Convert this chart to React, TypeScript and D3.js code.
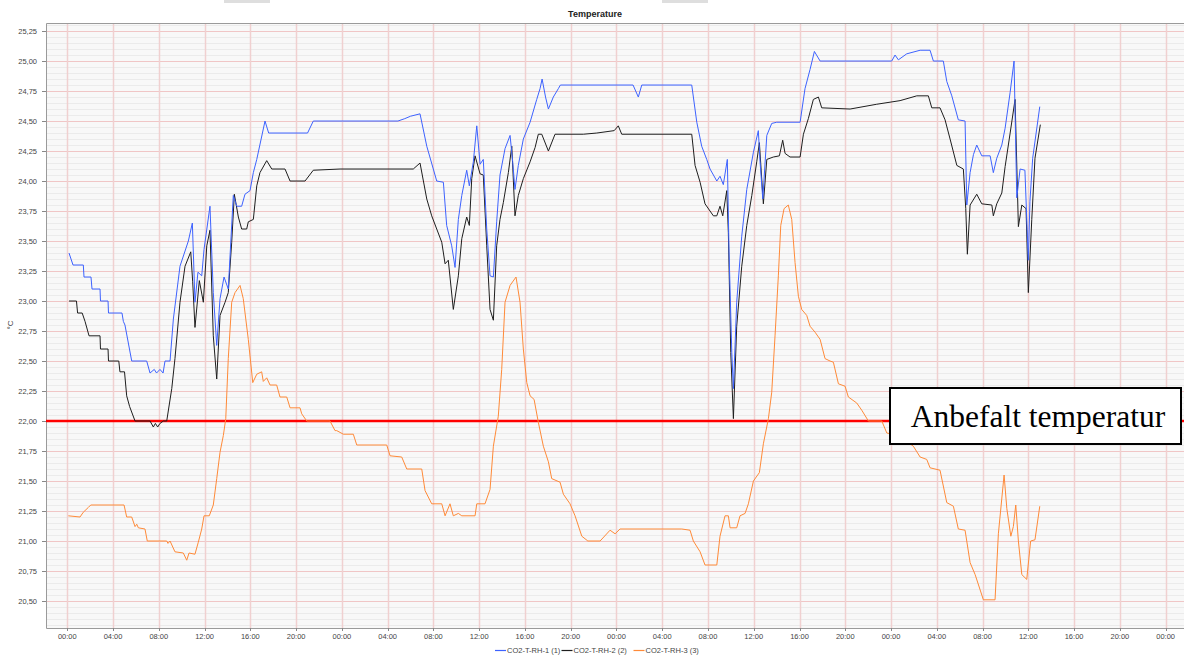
import React, { useEffect, useRef } from "react";
import * as d3 from "d3";

const W = 1184;
const H = 655;

const seriesNames = ["CO2-T-RH-1 (1)", "CO2-T-RH-2 (2)", "CO2-T-RH-3 (3)"];
const seriesColors = ["#3d62ff", "#1e1e1e", "#ff8a38"];
const hourLabels = ["00:00", "04:00", "08:00", "12:00", "16:00", "20:00"];
const refTemp = 22.0;
const refLabel = "Anbefalt temperatur";

// [hours since first 00:00, °C]
const rh1: [number, number][] = [
  [0.15, 23.4], [0.5, 23.3], [1.4, 23.3], [1.46, 23.2], [2.07, 23.2], [2.16, 23.1], [2.86, 23.1], [2.9, 23.0],
  [3.56, 23.0], [3.6, 22.9], [4.78, 22.9], [4.9, 22.83], [5.04, 22.8], [5.63, 22.5], [6.94, 22.5], [7.23, 22.4],
  [7.6, 22.43], [7.8, 22.4], [8.1, 22.43], [8.37, 22.4], [8.54, 22.5], [8.98, 22.5], [9.27, 22.85], [9.85, 23.29],
  [10.58, 23.5], [10.93, 23.65], [11.16, 22.99], [11.42, 23.24], [11.75, 23.21], [11.95, 23.43], [12.47, 23.79],
  [12.76, 23.07], [13.06, 22.63], [13.35, 23.02], [13.7, 23.2], [14.07, 23.1], [14.51, 23.88], [14.81, 23.79],
  [15.24, 23.79], [15.53, 23.89], [15.97, 23.92], [16.26, 24.07], [16.56, 24.18], [17.28, 24.5], [17.6, 24.4],
  [21.0, 24.4], [21.5, 24.5], [28.9, 24.5], [29.5, 24.52], [30.0, 24.54], [30.83, 24.56], [31.42, 24.29],
  [31.99, 24.1], [32.29, 24.0], [32.87, 23.99], [33.16, 23.63], [33.6, 23.46], [33.89, 23.28], [34.18, 23.68],
  [34.48, 23.88], [34.91, 24.09], [35.14, 23.96], [35.49, 24.16], [35.79, 24.46], [36.08, 24.14], [36.36, 24.18],
  [36.66, 23.6], [36.95, 23.21], [37.24, 23.2], [37.53, 23.66], [37.82, 24.05], [38.26, 24.27], [38.7, 24.38],
  [38.93, 24.16], [39.13, 23.93], [39.42, 24.13], [39.86, 24.35], [40.45, 24.49], [41.03, 24.68], [41.32, 24.77],
  [41.5, 24.85], [41.8, 24.7], [42.05, 24.6], [42.48, 24.7], [42.92, 24.77], [43.1, 24.8], [49.45, 24.8],
  [49.91, 24.7], [50.21, 24.8], [54.58, 24.8], [55.02, 24.49], [55.45, 24.29], [55.89, 24.18], [56.18, 24.1],
  [56.77, 24.0], [57.05, 24.04], [57.34, 23.97], [57.69, 24.18], [57.84, 23.41], [58.08, 22.57], [58.22, 22.27],
  [58.51, 22.99], [58.95, 23.54], [59.39, 23.93], [59.97, 24.24], [60.4, 24.42], [60.55, 24.16], [60.79, 23.85],
  [61.14, 24.38], [61.57, 24.48], [62.01, 24.49], [64.05, 24.49], [64.48, 24.77], [64.92, 24.93], [65.3, 25.08],
  [65.8, 25.0], [72.06, 25.0], [72.35, 25.05], [72.64, 25.01], [73.37, 25.06], [74.54, 25.09], [75.41, 25.09],
  [75.7, 25.0], [76.57, 25.0], [76.87, 24.83], [77.31, 24.71], [77.88, 24.51], [78.47, 24.5], [78.62, 23.8],
  [78.91, 24.07], [79.2, 24.22], [79.49, 24.3], [79.93, 24.21], [80.66, 24.21], [80.94, 24.07], [81.24, 24.19],
  [81.68, 24.3], [81.97, 24.44], [82.41, 24.74], [82.75, 25.0], [82.99, 23.86], [83.28, 24.1], [83.7, 24.09],
  [84.0, 23.34], [84.14, 23.83], [84.38, 24.19], [85.0, 24.62],
];

const rh2: [number, number][] = [
  [0.15, 23.0], [0.8, 23.0], [0.9, 22.9], [1.3, 22.9], [1.55, 22.83], [1.9, 22.71], [2.86, 22.71], [2.9, 22.6],
  [3.56, 22.6], [3.6, 22.5], [4.5, 22.5], [4.6, 22.41], [5.0, 22.41], [5.19, 22.21], [5.45, 22.12], [5.92, 22.0],
  [7.23, 22.0], [7.52, 21.95], [7.7, 21.98], [7.9, 21.95], [8.1, 21.98], [8.4, 22.0], [8.69, 22.0], [9.13, 22.27],
  [9.41, 22.52], [9.85, 22.99], [10.29, 23.29], [10.79, 23.41], [10.96, 23.16], [11.16, 22.78], [11.54, 23.17],
  [11.89, 22.99], [12.19, 23.46], [12.47, 23.59], [12.76, 22.71], [13.06, 22.35], [13.35, 22.88], [13.79, 22.99],
  [14.07, 23.07], [14.37, 23.49], [14.6, 23.89], [14.95, 23.7], [15.24, 23.6], [15.68, 23.6], [15.82, 23.66],
  [16.26, 23.68], [16.56, 23.96], [16.84, 24.07], [17.43, 24.17], [17.87, 24.1], [19.03, 24.1], [19.47, 24.0],
  [20.78, 24.0], [21.5, 24.09], [23.84, 24.1], [30.24, 24.1], [30.83, 24.15], [31.42, 23.85], [31.85, 23.71],
  [32.29, 23.6], [32.73, 23.49], [33.02, 23.31], [33.3, 23.34], [33.74, 22.93], [34.18, 23.21], [34.48, 23.52],
  [34.91, 23.7], [35.14, 23.63], [35.35, 24.02], [35.64, 24.21], [36.08, 24.06], [36.36, 24.05], [36.66, 23.46],
  [36.95, 22.93], [37.24, 22.84], [37.53, 23.46], [37.82, 23.68], [38.11, 23.82], [38.55, 24.07], [38.85, 24.29],
  [39.13, 23.71], [39.42, 23.88], [39.86, 24.02], [40.45, 24.16], [40.89, 24.28], [41.17, 24.39], [41.47, 24.39],
  [42.05, 24.25], [42.63, 24.39], [45.1, 24.39], [46.28, 24.4], [47.8, 24.42], [48.16, 24.46], [48.46, 24.39],
  [54.58, 24.39], [54.87, 24.13], [55.31, 23.99], [55.74, 23.81], [56.47, 23.71], [56.77, 23.71], [57.05, 23.79],
  [57.29, 23.71], [57.64, 23.92], [57.78, 23.57], [57.99, 22.57], [58.22, 22.02], [58.51, 22.79], [58.95, 23.29],
  [59.39, 23.63], [59.83, 23.88], [60.26, 24.16], [60.49, 24.32], [60.64, 24.1], [60.84, 23.81], [61.14, 24.18],
  [61.71, 24.2], [62.24, 24.21], [62.53, 24.34], [62.74, 24.23], [63.17, 24.2], [64.05, 24.2], [64.34, 24.39],
  [64.77, 24.52], [65.21, 24.68], [65.65, 24.7], [65.94, 24.61], [68.42, 24.6], [70.75, 24.64], [72.79, 24.67],
  [74.25, 24.71], [75.26, 24.71], [75.56, 24.61], [76.28, 24.61], [76.72, 24.51], [77.16, 24.35], [77.75, 24.13],
  [78.32, 24.1], [78.53, 23.77], [78.67, 23.39], [78.91, 23.8], [79.49, 23.89], [79.93, 23.81], [80.81, 23.8],
  [80.94, 23.71], [81.24, 23.81], [81.68, 23.9], [81.97, 24.12], [82.41, 24.4], [82.84, 24.68], [83.13, 23.62],
  [83.43, 23.8], [83.8, 23.77], [84.0, 23.07], [84.3, 23.68], [84.58, 24.19], [85.05, 24.47],
];

const rh3: [number, number][] = [
  [0.09, 21.21], [1.11, 21.2], [1.4, 21.24], [1.84, 21.28], [2.05, 21.3], [4.96, 21.3], [5.19, 21.2], [5.63, 21.2],
  [5.92, 21.12], [6.07, 21.14], [6.21, 21.11], [6.79, 21.1], [6.99, 21.0], [8.69, 21.0], [8.8, 20.98], [8.98, 21.0],
  [9.41, 20.91], [10.14, 20.9], [10.44, 20.84], [10.64, 20.9], [11.16, 20.89], [11.45, 20.99], [11.75, 21.1],
  [11.95, 21.21], [12.41, 21.21], [12.76, 21.3], [13.06, 21.52], [13.35, 21.74], [13.64, 21.88], [13.85, 22.02],
  [14.07, 22.52], [14.37, 22.99], [14.66, 23.07], [15.1, 23.13], [15.38, 23.02], [15.82, 22.68], [16.21, 22.32],
  [16.56, 22.39], [16.99, 22.41], [17.13, 22.33], [17.43, 22.36], [17.72, 22.3], [18.3, 22.3], [18.59, 22.2],
  [19.18, 22.2], [19.47, 22.11], [20.34, 22.11], [20.49, 22.06], [20.93, 22.0], [22.96, 22.0], [23.4, 21.92],
  [23.55, 21.92], [24.13, 21.89], [25.0, 21.89], [25.3, 21.8], [27.92, 21.8], [28.21, 21.71], [29.23, 21.7],
  [29.67, 21.6], [30.98, 21.6], [31.27, 21.42], [31.85, 21.31], [32.73, 21.31], [33.02, 21.21], [33.45, 21.31],
  [33.74, 21.21], [34.18, 21.23], [34.48, 21.21], [35.64, 21.21], [35.79, 21.31], [36.51, 21.31], [36.95, 21.43],
  [37.24, 21.79], [37.67, 22.04], [37.97, 22.43], [38.26, 22.99], [38.7, 23.13], [39.22, 23.2], [39.57, 22.99],
  [39.86, 22.6], [40.16, 22.32], [40.45, 22.21], [40.8, 22.18], [41.17, 21.99], [41.61, 21.79], [42.05, 21.66],
  [42.34, 21.52], [43.07, 21.49], [43.36, 21.39], [43.94, 21.31], [44.38, 21.21], [44.97, 21.04], [45.5, 21.0],
  [46.57, 21.0], [47.44, 21.09], [47.88, 21.06], [48.31, 21.1], [53.71, 21.1], [54.43, 21.09], [54.72, 21.0],
  [55.31, 20.91], [55.74, 20.8], [56.77, 20.8], [57.05, 21.04], [57.49, 21.21], [57.78, 21.21], [57.93, 21.11],
  [58.51, 21.11], [58.8, 21.21], [59.24, 21.23], [59.53, 21.31], [59.97, 21.5], [60.49, 21.57], [60.84, 21.81],
  [61.28, 22.02], [61.57, 22.24], [61.86, 22.71], [62.15, 23.21], [62.36, 23.63], [62.65, 23.77], [63.02, 23.8],
  [63.32, 23.68], [63.61, 23.32], [63.9, 23.04], [64.19, 22.93], [64.63, 22.88], [64.92, 22.79], [65.36, 22.74],
  [65.8, 22.68], [66.23, 22.52], [66.67, 22.5], [66.96, 22.49], [67.4, 22.31], [67.98, 22.29], [68.27, 22.2],
  [69.0, 22.15], [69.44, 22.09], [70.02, 22.0], [71.19, 22.0], [71.63, 21.9], [72.64, 21.88], [73.95, 21.79],
  [74.54, 21.7], [75.12, 21.68], [75.41, 21.61], [76.28, 21.59], [76.87, 21.32], [77.45, 21.29], [77.88, 21.1],
  [78.47, 21.09], [78.91, 20.82], [79.35, 20.72], [80.07, 20.51], [81.09, 20.51], [81.38, 21.06], [81.88, 21.55],
  [82.12, 21.27], [82.47, 21.04], [82.69, 21.12], [82.9, 21.3], [83.13, 21.0], [83.43, 20.72], [83.86, 20.68],
  [84.2, 21.0], [84.58, 21.01], [85.0, 21.29],
];

const App = () => {
  const ref = useRef<SVGSVGElement>(null);

  useEffect(() => {
    document.body.style.margin = "0";
    const svg = d3.select(ref.current);
    svg.selectAll("*").remove();

    const left = 46, right = 1190, top = 23, bottom = 628;
    const x = d3.scaleLinear().domain([-1.862, 98.13]).range([left, right]);
    const y = d3.scaleLinear().domain([20.275, 25.317]).range([bottom, top]);
    const font = "'Liberation Sans', Arial, sans-serif";

    svg.append("rect").attr("width", W).attr("height", H).attr("fill", "#fff");
    // grey remnants at the top edge of the screenshot
    svg.append("rect").attr("x", 224).attr("y", 0).attr("width", 46).attr("height", 3).attr("fill", "#dedede");
    svg.append("rect").attr("x", 662).attr("y", 0).attr("width", 46).attr("height", 3).attr("fill", "#dedede");

    svg.append("rect")
      .attr("x", left).attr("y", top)
      .attr("width", right - left).attr("height", bottom - top)
      .attr("fill", "#f8f8f8");

    const minor = d3.range(406, 507).filter(i => i % 5 !== 0).map(i => i / 20);
    svg.append("g").selectAll("line").data(minor).join("line")
      .attr("x1", left).attr("x2", right)
      .attr("y1", d => Math.round(y(d)) + 0.5).attr("y2", d => Math.round(y(d)) + 0.5)
      .attr("stroke", "#ebebeb").attr("stroke-width", 1);

    const yTicks = d3.range(82, 102).map(i => i / 4);
    const xTicks = d3.range(0, 100, 4);

    svg.append("g").selectAll("line").data(yTicks).join("line")
      .attr("x1", left).attr("x2", right)
      .attr("y1", d => Math.round(y(d)) + 0.5).attr("y2", d => Math.round(y(d)) + 0.5)
      .attr("stroke", "#f0c6c6").attr("stroke-width", 1);

    svg.append("g").selectAll("line").data(xTicks).join("line")
      .attr("x1", d => Math.round(x(d)) + 0.5).attr("x2", d => Math.round(x(d)) + 0.5)
      .attr("y1", top).attr("y2", bottom)
      .attr("stroke", "#f0d0d0").attr("stroke-width", 1.5);

    // frame
    svg.append("path")
      .attr("d", `M${right},${top + 0.5}H${left + 0.5}V${bottom + 0.5}H${right}`)
      .attr("fill", "none").attr("stroke", "#9a9a9a").attr("stroke-width", 1);

    // y axis
    const fmt = d3.format(".2f");
    const ya = svg.append("g");
    ya.selectAll("line").data(yTicks).join("line")
      .attr("x1", left - 4).attr("x2", left)
      .attr("y1", d => Math.round(y(d)) + 0.5).attr("y2", d => Math.round(y(d)) + 0.5)
      .attr("stroke", "#888");
    ya.selectAll("text").data(yTicks).join("text")
      .attr("x", 37).attr("y", d => y(d) + 2.6)
      .attr("text-anchor", "end")
      .attr("font-family", font).attr("font-size", 7.5).attr("fill", "#444")
      .text(d => fmt(d).replace(".", ","));

    svg.append("text")
      .attr("transform", "translate(13,325) rotate(-90)")
      .attr("text-anchor", "middle")
      .attr("font-family", font).attr("font-size", 8).attr("fill", "#444")
      .text("°C");

    // x axis
    const xa = svg.append("g");
    xa.selectAll("line").data(xTicks).join("line")
      .attr("x1", d => Math.round(x(d)) + 0.5).attr("x2", d => Math.round(x(d)) + 0.5)
      .attr("y1", bottom).attr("y2", bottom + 3)
      .attr("stroke", "#888");
    xa.selectAll("text").data(xTicks).join("text")
      .attr("x", d => x(d)).attr("y", 639)
      .attr("text-anchor", "middle")
      .attr("font-family", font).attr("font-size", 7.5).attr("fill", "#444")
      .text(d => hourLabels[(d % 24) / 4]);

    // title
    svg.append("text")
      .attr("x", 595).attr("y", 17)
      .attr("text-anchor", "middle")
      .attr("font-family", font).attr("font-size", 9).attr("font-weight", "bold")
      .attr("fill", "#222")
      .text("Temperature");

    // reference line
    svg.append("line")
      .attr("x1", left).attr("x2", right)
      .attr("y1", y(refTemp)).attr("y2", y(refTemp))
      .attr("stroke", "#ff0000").attr("stroke-width", 2.6);

    const line = d3.line<[number, number]>().x(d => x(d[0])).y(d => y(d[1]));
    const all = [rh1, rh2, rh3];
    [2, 1, 0].forEach(i => {
      svg.append("path")
        .attr("d", line(all[i]) || "")
        .attr("fill", "none")
        .attr("stroke", seriesColors[i])
        .attr("stroke-width", 1)
        .attr("stroke-linejoin", "round");
    });

    // annotation
    svg.append("rect")
      .attr("x", 890).attr("y", 388)
      .attr("width", 291).attr("height", 56)
      .attr("fill", "#fff").attr("stroke", "#000").attr("stroke-width", 2);
    svg.append("text")
      .attr("x", 1038).attr("y", 427)
      .attr("text-anchor", "middle")
      .attr("font-family", "'Liberation Serif', 'Times New Roman', serif")
      .attr("font-size", 31.5).attr("fill", "#000")
      .text(refLabel);

    // legend
    const legendX = [495, 561.5, 633.5];
    const lg = svg.append("g");
    seriesNames.forEach((name, i) => {
      lg.append("line")
        .attr("x1", legendX[i]).attr("x2", legendX[i] + 11)
        .attr("y1", 650.5).attr("y2", 650.5)
        .attr("stroke", seriesColors[i]).attr("stroke-width", 1.2);
      lg.append("text")
        .attr("x", legendX[i] + 12).attr("y", 653)
        .attr("font-family", font).attr("font-size", 7.5).attr("fill", "#444")
        .text(name);
    });
  }, []);

  return <svg ref={ref} width={W} height={H} style={{ display: "block" }} />;
};

export default App;
